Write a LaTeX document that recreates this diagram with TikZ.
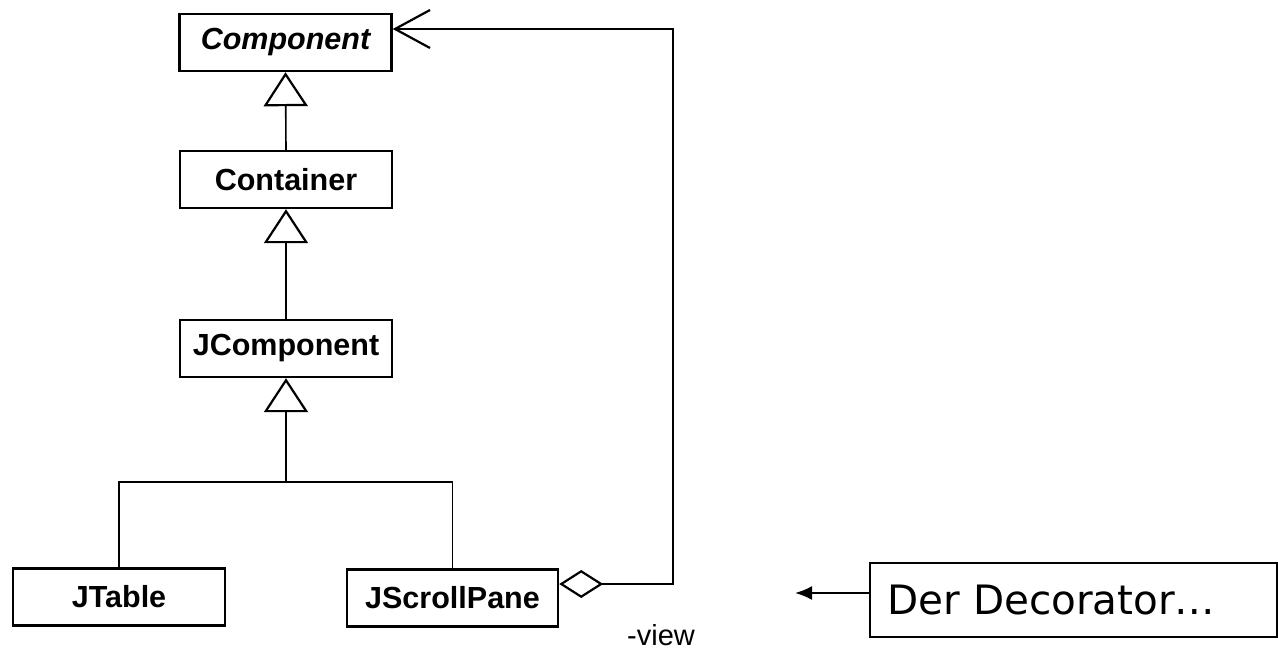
\documentclass[tikz,border=0pt]{standalone}
\usepackage{fontspec}
\setmainfont{Liberation Sans}
\newfontfamily\dejavu{DejaVu Sans}
\usetikzlibrary{arrows.meta}
\begin{document}
\begin{tikzpicture}[x=1pt,y=-1pt,
  cls/.style={draw,line width=2.4pt,minimum width=212pt,minimum height=57pt,inner sep=0pt,
    font=\fontsize{30.5}{36}\selectfont\bfseries},
  conn/.style={line width=1.6pt},
  gen/.style={conn,-{Triangle[open,length=34pt,width=44pt,line width=2.2pt]}},
  agg/.style={conn,{Diamond[open,length=44pt,width=28pt,line width=2.2pt]}-{Straight Barb[length=35pt,width=38pt,line width=2.2pt]}},
  note/.style={draw,line width=1.8pt,minimum width=407pt,minimum height=74pt,inner sep=0pt,
    font=\dejavu\fontsize{40.5}{48}\selectfont}
]
\useasboundingbox (0,0) rectangle (1278,649);
\node[cls] (comp) at (285.5,42.5) {\itshape Component};
\node[cls] (cont) at (286,179.5) {Container};
\node[cls] (jcomp) at (286,348.5) {JComponent};
\node[cls] (jtable) at (119,597) {JTable};
\node[cls,minimum width=211pt] (jscroll) at (452.5,598) {JScrollPane};
\node[note] (deco) at (1073.5,600) {\hspace*{-44pt}Der Decorator…};
\node[anchor=base west,inner sep=0pt,font=\fontsize{29}{34}\selectfont] (view) at (627,645) {-view};

\coordinate (junc) at (286,482);
\coordinate (rbot) at (673,584);
\coordinate (rtop) at (673,29);
\coordinate (decotip) at (795,593);

\draw[gen] (cont.north) -- (comp.south);
\draw[gen] (jcomp.north) -- (cont.south);
\draw[gen] (junc) -- (jcomp.south);
\draw[conn] (jtable.north) |- (junc) -| (jscroll.north);
\draw[agg] ([yshift=14pt]jscroll.east) -- (rbot) -- (rtop) -- ([yshift=13.5pt]comp.east);
\draw[line width=2pt,-{Latex[length=17pt,width=14pt]}] ([yshift=7pt]deco.west) -- (decotip);
\end{tikzpicture}
\end{document}
